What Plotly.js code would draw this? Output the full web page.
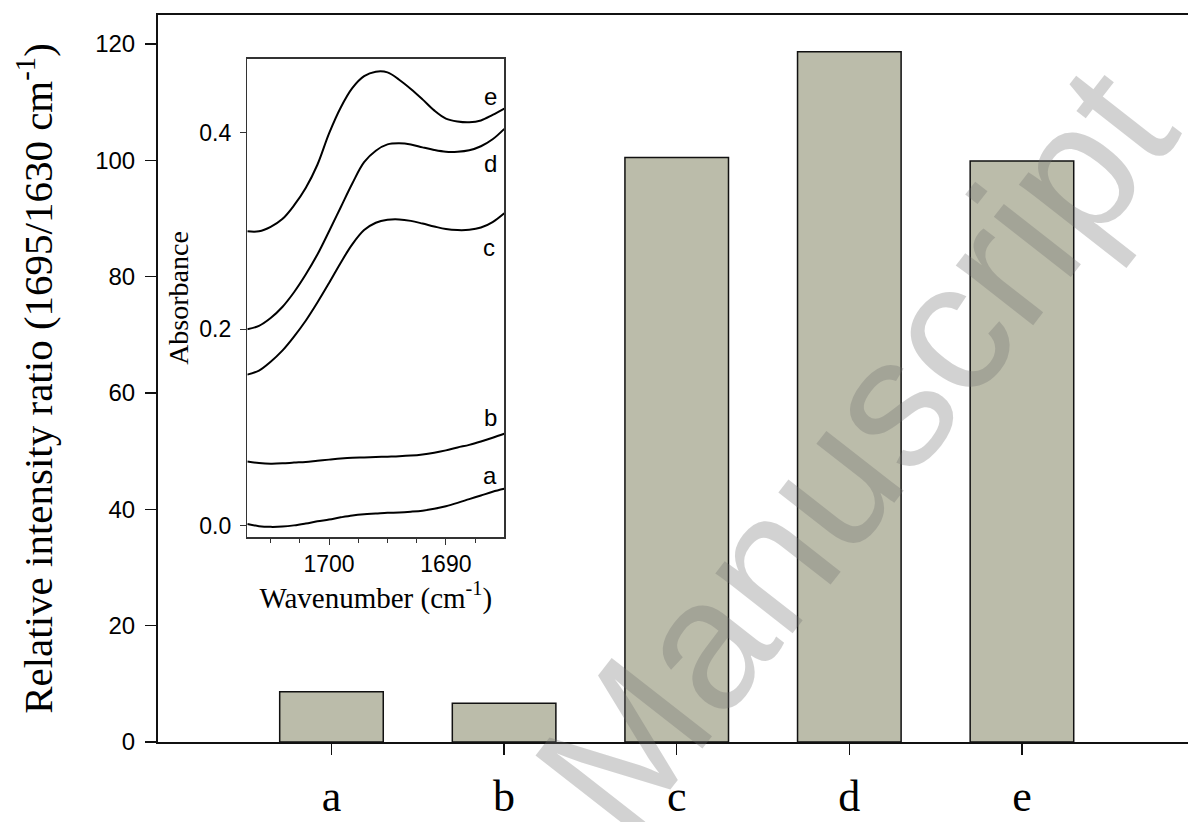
<!DOCTYPE html>
<html>
<head>
<meta charset="utf-8">
<script src="https://cdn.plot.ly/plotly-3.0.1.min.js"></script>
<style>
  html, body { margin: 0; padding: 0; background: #ffffff; }
  #chart { width: 1188px; height: 822px; }
</style>
</head>
<body>
<div id="chart"></div>
<script>
// ---- Main bar chart data ----
const categories = ["a", "b", "c", "d", "e"];
const ratioValues = [8.65, 6.65, 100.5, 118.7, 99.9];

// ---- Inset spectra data (absorbance vs wavenumber, cm-1) ----
const wavenumber = [1707, 1706, 1705, 1704, 1703, 1702, 1701, 1700, 1699, 1698, 1697, 1696,
                    1695, 1694, 1693, 1692, 1691, 1690, 1689, 1688, 1687, 1686, 1685];
const spectrumA = [0.0019, -0.0004, -0.0011, -0.0008, 0.0004, 0.0023, 0.0045, 0.0064, 0.0086, 0.0105, 0.0117, 0.0124,
                   0.0132, 0.0135, 0.0143, 0.0154, 0.0173, 0.0199, 0.0233, 0.0271, 0.0308, 0.0346, 0.0376];
const spectrumB = [0.0654, 0.0639, 0.0632, 0.0635, 0.0643, 0.0650, 0.0662, 0.0673, 0.0684, 0.0692, 0.0695, 0.0699,
                   0.0703, 0.0707, 0.0714, 0.0726, 0.0744, 0.0767, 0.0797, 0.0823, 0.0857, 0.0895, 0.0936];
const spectrumC = [0.1538, 0.1579, 0.1669, 0.1782, 0.1925, 0.2086, 0.2271, 0.2470, 0.2677, 0.2865, 0.3008, 0.3083,
                   0.3113, 0.3117, 0.3102, 0.3075, 0.3045, 0.3019, 0.3008, 0.3011, 0.3034, 0.3090, 0.3180];
const spectrumD = [0.2000, 0.2034, 0.2113, 0.2226, 0.2376, 0.2556, 0.2759, 0.2996, 0.3241, 0.3485, 0.3699, 0.3816,
                   0.3880, 0.3891, 0.3880, 0.3850, 0.3823, 0.3805, 0.3805, 0.3820, 0.3861, 0.3932, 0.4038];
const spectrumE = [0.2996, 0.2996, 0.3041, 0.3120, 0.3259, 0.3436, 0.3673, 0.3992, 0.4256, 0.4455, 0.4575, 0.4620,
                   0.4613, 0.4538, 0.4444, 0.4338, 0.4226, 0.4143, 0.4113, 0.4105, 0.4124, 0.4180, 0.4244];
const spectra = [spectrumA, spectrumB, spectrumC, spectrumD, spectrumE];

// Label positions for the inset curves (wavenumber, absorbance)
const insetLabelX = [1686.2, 1686.2, 1686.3, 1686.2, 1686.2];
const insetLabelY = [0.0515, 0.110, 0.283, 0.369, 0.437];

const watermarkText = "Manuscript";

const traces = [];
traces.push({
  type: "bar",
  x: categories,
  y: ratioValues,
  width: 0.6,
  marker: { color: "#bbbcaa", line: { color: "#111111", width: 1.5 } },
  xaxis: "x", yaxis: "y",
  hoverinfo: "skip"
});

spectra.forEach(function (s) {
  traces.push({
    type: "scatter",
    mode: "lines",
    x: wavenumber,
    y: s,
    line: { color: "#000000", width: 2, shape: "spline", smoothing: 1.0 },
    xaxis: "x2", yaxis: "y2",
    hoverinfo: "skip"
  });
});

const annotations = categories.map(function (c, i) {
  return {
    x: insetLabelX[i], y: insetLabelY[i], xref: "x2", yref: "y2",
    text: c, showarrow: false,
    font: { family: "Liberation Sans, Arial, sans-serif", size: 24, color: "#000" },
    xanchor: "center", yanchor: "middle"
  };
});

annotations.push({
  x: 0.676, y: 0.402, xref: "paper", yref: "paper",
  text: watermarkText, showarrow: false, textangle: -52,
  opacity: 0.3,
  font: { family: "Liberation Sans, Arial, sans-serif", size: 185, color: "#6e6e6e" },
  xanchor: "center", yanchor: "middle"
});

const layout = {
  width: 1188, height: 822,
  margin: { l: 158, r: 0, t: 15, b: 80, pad: 0 },
  paper_bgcolor: "#ffffff",
  plot_bgcolor: "rgba(0,0,0,0)",
  showlegend: false,
  bargap: 0.4,
  xaxis: {
    type: "category",
    range: [-1.005, 4.962],
    showline: true, linecolor: "#111", linewidth: 2, mirror: true,
    ticks: "outside", ticklen: 11, tickwidth: 1.5, tickcolor: "#111",
    showgrid: false, zeroline: false,
    tickfont: { family: "Liberation Serif, Times New Roman, serif", size: 44, color: "#000" },
    ticklabelstandoff: 3,
    fixedrange: true
  },
  yaxis: {
    range: [0, 125],
    showline: true, linecolor: "#111", linewidth: 2,
    ticks: "outside", ticklen: 11, tickwidth: 1.5, tickcolor: "#111",
    tickvals: [0, 20, 40, 60, 80, 100, 120],
    showgrid: false, zeroline: false,
    tickfont: { family: "Liberation Sans, Arial, sans-serif", size: 24, color: "#000" },
    ticklabelstandoff: 5,
    title: {
      text: "Relative intensity ratio (1695/1630 cm<sup>-1</sup>)",
      font: { family: "Liberation Serif, Times New Roman, serif", size: 41, color: "#000" },
      standoff: 30
    },
    fixedrange: true
  },
  xaxis2: {
    domain: [0.0867, 0.3362],
    anchor: "y2",
    range: [1707, 1685],
    showline: true, linecolor: "#333", linewidth: 1.5, mirror: true,
    ticks: "outside", ticklen: 6, tickwidth: 1, tickcolor: "#333",
    tickvals: [1700, 1690],
    minor: { tickvals: [1705, 1702.5, 1697.5, 1695, 1692.5, 1687.5], ticks: "outside", ticklen: 4, tickwidth: 1, tickcolor: "#333" },
    showgrid: false, zeroline: false,
    tickfont: { family: "Liberation Sans, Arial, sans-serif", size: 23, color: "#000" },
    title: {
      text: "Wavenumber (cm<sup>-1</sup>)",
      font: { family: "Liberation Serif, Times New Roman, serif", size: 29, color: "#000" },
      standoff: 4
    },
    fixedrange: true
  },
  yaxis2: {
    domain: [0.2816, 0.9399],
    anchor: "x2",
    range: [-0.0117, 0.4752],
    showline: true, linecolor: "#333", linewidth: 1.5, mirror: true,
    ticks: "outside", ticklen: 6, tickwidth: 1, tickcolor: "#333",
    tickvals: [0, 0.2, 0.4],
    tickformat: ".1f",
    showgrid: false, zeroline: false,
    tickfont: { family: "Liberation Sans, Arial, sans-serif", size: 23, color: "#000" },
    ticklabelstandoff: 4,
    title: {
      text: "Absorbance",
      font: { family: "Liberation Serif, Times New Roman, serif", size: 28, color: "#000" },
      standoff: 2
    },
    fixedrange: true
  },
  annotations: annotations
};

Plotly.newPlot("chart", traces, layout, { displayModeBar: false, staticPlot: true });
</script>
</body>
</html>
